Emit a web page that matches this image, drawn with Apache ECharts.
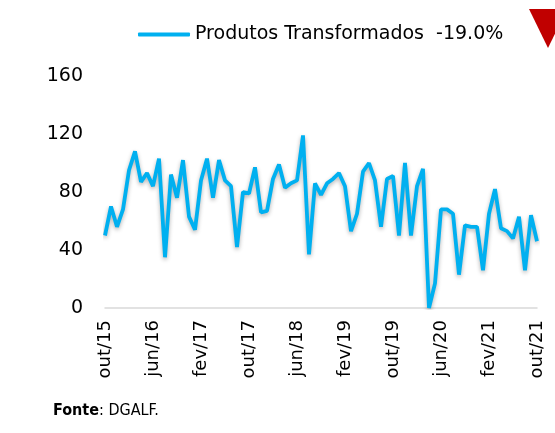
<!DOCTYPE html>
<html>
	<head>
		<meta charset="utf-8">
		<title></title>
		<style type="text/css">
			html, body { margin: 0; padding: 0; background: #fff; }
			#main{
				width: 555px;
				height: 433px;
			}
		</style>
	</head>
	<body>
		<div id="main"></div>
	</body>
<script src="https://cdn.jsdelivr.net/npm/echarts@6/dist/echarts.min.js" type="text/javascript" charset="utf-8"></script>
<script type="text/javascript">
	// meses de out/15 a out/21
	var meses = ['jan', 'fev', 'mar', 'abr', 'mai', 'jun', 'jul', 'ago', 'set', 'out', 'nov', 'dez'];
	var anoInicio = 15, mesInicio = 9, nMeses = 73;
	var serieNome = 'Produtos Transformados';
	var variacao = '-19.0%';
	var yTicks = [0, 40, 80, 120, 160];
	var valores = [
		50, 70, 56, 68, 95, 108, 87, 93, 84, 103,
		35, 92, 76, 102, 63, 54, 88, 103, 76, 102,
		88, 84, 42, 80, 79, 97, 66, 67, 89, 99,
		83, 86, 88, 119, 37, 86, 78, 86, 89, 93,
		84, 53, 65, 94, 100, 88, 56, 89, 91, 50,
		100, 50, 84, 96, 0, 17, 68, 68, 65, 23,
		57, 56, 56, 26, 65, 82, 55, 53, 48, 63,
		26, 64, 46
	];

	var categorias = [];
	for (var i = 0; i < nMeses; i++) {
		var m = (mesInicio + i) % 12;
		var a = anoInicio + Math.floor((mesInicio + i) / 12);
		categorias.push(meses[m] + '/' + a);
	}

	var fonte = 'DejaVu Sans';
	var myChart = echarts.init(document.getElementById('main'));
	var option = {
		animation: false,
		backgroundColor: '#fff',
		textStyle: { fontFamily: fonte, color: '#000' },
		legend: {
			left: 133,
			top: 20,
			itemWidth: 52,
			itemHeight: 4,
			itemGap: 6,
			icon: 'roundRect',
			textStyle: { fontSize: 19, color: '#000', fontFamily: fonte },
			formatter: function (n) { return n + '  ' + variacao; },
			data: [serieNome]
		},
		grid: { left: 105, right: 18, top: 76, bottom: 125 },
		xAxis: {
			type: 'category',
			data: categorias,
			boundaryGap: false,
			axisLine: { lineStyle: { color: '#d9d9d9', width: 1.5 } },
			axisTick: { show: false },
			axisLabel: {
				interval: 7,
				rotate: 90,
				margin: 12,
				fontSize: 18,
				color: '#000',
				fontFamily: fonte
			}
		},
		yAxis: {
			type: 'value',
			min: yTicks[0],
			max: yTicks[yTicks.length - 1],
			interval: 40,
			axisLine: { show: false },
			axisTick: { show: false },
			splitLine: { show: false },
			axisLabel: { fontSize: 19, color: '#000', margin: 22, fontFamily: fonte }
		},
		series: [{
			name: serieNome,
			type: 'line',
			data: valores,
			symbol: 'none',
			color: '#00B0F0',
			lineStyle: {
				width: 3.8,
				color: '#00B0F0',
				shadowColor: 'rgba(0,0,0,0.3)',
				shadowBlur: 4,
				shadowOffsetY: 2
			}
		}],
		graphic: [
			{
				type: 'polygon',
				shape: { points: [[529, 9], [567, 9], [548, 48]] },
				style: { fill: '#C00000' }
			},
			{
				type: 'text',
				left: 53,
				top: 403,
				style: {
					text: '{b|Fonte}: DGALF.',
					fontSize: 16,
					fontFamily: 'DejaVu Sans Condensed',
					fill: '#000',
					rich: { b: { fontWeight: 'bold', fontSize: 16, fontFamily: 'DejaVu Sans Condensed' } }
				}
			}
		]
	};
	option && myChart.setOption(option);
</script>
</html>
